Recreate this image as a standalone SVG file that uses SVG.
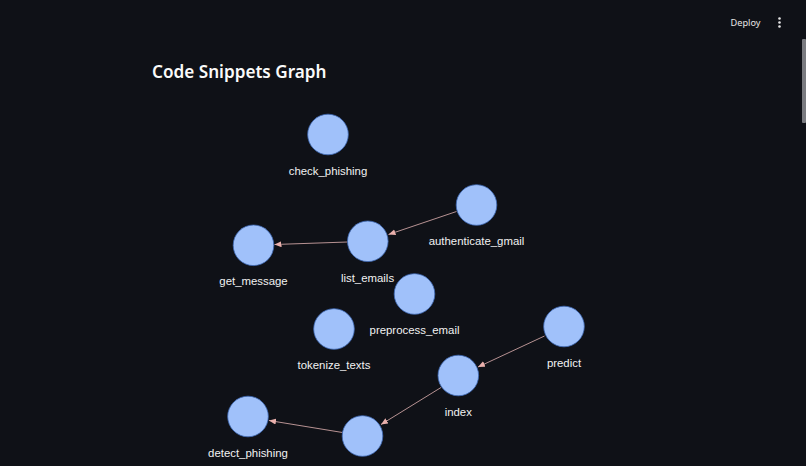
<svg xmlns="http://www.w3.org/2000/svg" width="806" height="466" viewBox="0 0 806 466">
<style>
.n{fill:#a0c1fa;stroke:#3f69b5;stroke-width:0.8}
.l{font-family:"Liberation Sans",Arial,sans-serif;font-size:11.4px;fill:#f2f2f2;text-anchor:middle}
.e{stroke:#c9a0a0;stroke-width:0.9;fill:none;marker-end:url(#a)}
</style>
<defs><marker id="a" markerUnits="userSpaceOnUse" markerWidth="8" markerHeight="7" refX="7" refY="3" orient="auto"><path d="M0 0L7 3L0 6Z" fill="#eab0ac"/></marker></defs>
<rect width="806" height="466" fill="#0f1117"/>
<text x="152" y="78" font-family="'Noto Sans','Open Sans',sans-serif" font-size="17.5" font-weight="600" fill="#fafafa" textLength="174.500" lengthAdjust="spacingAndGlyphs">Code Snippets Graph</text>
<text x="745.500" y="26" font-family="'Noto Sans','Open Sans',sans-serif" font-size="9.200" fill="#e6e6e6" text-anchor="middle">Deploy</text>
<g fill="#e6e6e6"><circle cx="779.500" cy="18.500" r="1.300"/><circle cx="779.500" cy="22.500" r="1.300"/><circle cx="779.500" cy="26.500" r="1.300"/></g>
<rect x="802" y="39" width="4" height="84" rx="1" fill="#7a7b80"/>
<g id="connectors">
<path class="e" d="M456.500 211.500L388.500 234.500"/>
<path class="e" d="M347.500 242L274.500 244.500"/>
<path class="e" d="M544.500 336L478 367"/>
<path class="e" d="M441 387.500L381 424.500"/>
<path class="e" d="M342.500 432.500L269 420.500"/>
</g>
<g id="check_phishing"><circle class="n" cx="328" cy="134.500" r="20.300"/><text class="l" x="328" y="175">check_phishing</text></g>
<g id="authenticate_gmail"><circle class="n" cx="476.500" cy="205" r="20.300"/><text class="l" x="476.500" y="245">authenticate_gmail</text></g>
<g id="list_emails"><circle class="n" cx="367.800" cy="241.300" r="20.300"/><text class="l" x="367.500" y="281.500">list_emails</text></g>
<g id="get_message"><circle class="n" cx="253.500" cy="245.300" r="20.300"/><text class="l" x="253.500" y="285">get_message</text></g>
<g id="preprocess_email"><circle class="n" cx="414.500" cy="294" r="20.300"/><text class="l" x="414.500" y="334">preprocess_email</text></g>
<g id="tokenize_texts"><circle class="n" cx="334" cy="329" r="20.300"/><text class="l" x="334" y="369">tokenize_texts</text></g>
<g id="predict"><circle class="n" cx="564" cy="326.500" r="20.300"/><text class="l" x="564" y="367">predict</text></g>
<g id="index"><circle class="n" cx="458.300" cy="375.500" r="20.300"/><text class="l" x="458.300" y="416">index</text></g>
<g id="detect_phishing"><circle class="n" cx="248" cy="416.500" r="20.300"/><text class="l" x="248" y="456.500">detect_phishing</text></g>
<g id="unlabeled"><circle class="n" cx="362.500" cy="436" r="20.300"/></g>
</svg>
